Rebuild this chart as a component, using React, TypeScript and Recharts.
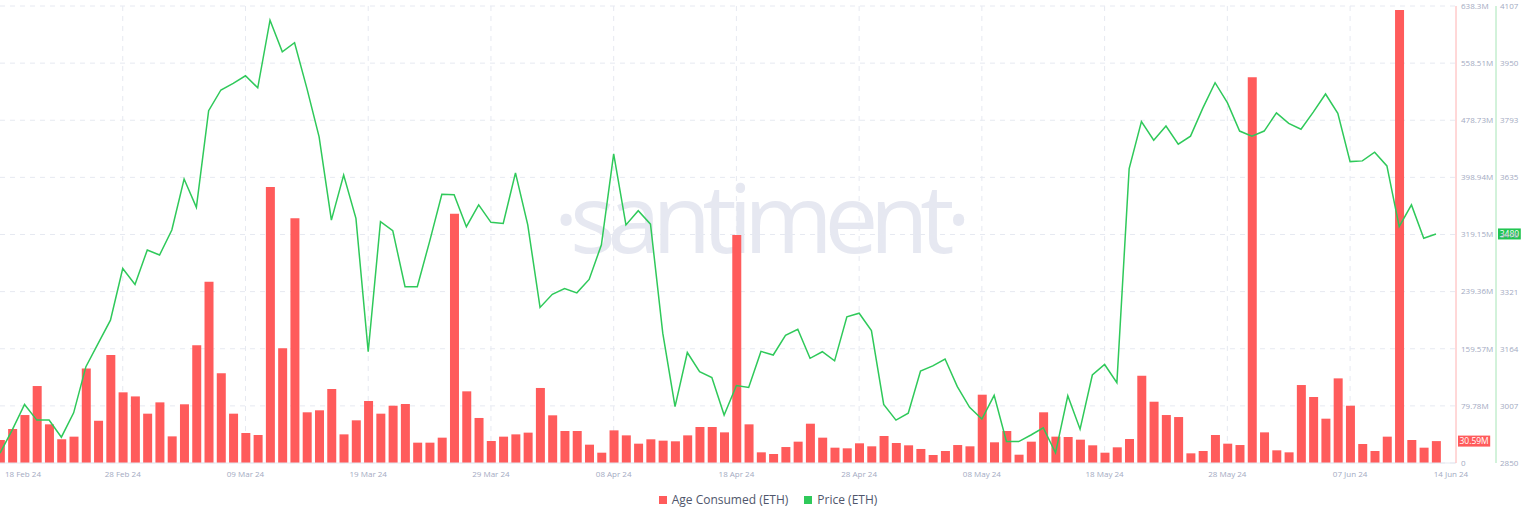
import {
  ComposedChart, Bar, Line, XAxis, YAxis, CartesianGrid,
  ReferenceLine, Legend,
} from "recharts";

document.body.style.margin = "0";

// Age consumed per day, in millions of ETH (18 Feb 24 .. 14 Jun 24)
const AGE_CONSUMED = [
  32.1, 47.5, 67.0, 107.5, 54.0, 33.0, 36.8, 132.0, 59.0, 150.8,
  98.7, 93.0, 68.9, 84.7, 37.2, 82.0, 164.3, 253.3, 125.2, 68.9,
  41.9, 39.1, 385.5, 160.2, 341.7, 70.8, 73.6, 103.4, 40.0, 59.6,
  86.6, 68.9, 80.0, 82.4, 28.4, 28.4, 35.4, 348.2, 100.1, 62.9,
  30.7, 36.8, 40.0, 42.4, 104.8, 66.6, 44.7, 44.7, 25.6, 14.4,
  45.6, 38.6, 27.0, 33.1, 31.2, 30.3, 38.6, 50.3, 50.3, 42.8,
  318.4, 54.0, 14.9, 12.6, 22.3, 29.8, 54.9, 35.4, 21.4, 20.5,
  27.5, 23.3, 37.7, 27.9, 24.7, 19.6, 11.2, 16.8, 25.1, 23.3,
  95.4, 28.9, 44.7, 11.6, 29.8, 70.8, 36.8, 36.3, 32.6, 24.7,
  14.4, 21.9, 33.5, 122.0, 85.6, 67.0, 64.2, 13.5, 16.8, 39.1,
  27.0, 25.1, 538.7, 42.8, 17.7, 14.9, 108.9, 92.2, 61.9, 118.2,
  80.0, 26.5, 16.8, 36.8, 632.7, 32.1, 21.4, 30.59,
];

// ETH price per day
const PRICE = [
  2877, 2941, 3011, 2968, 2968, 2921, 2988, 3115, 3179, 3243,
  3385, 3341, 3436, 3422, 3491, 3631, 3553, 3819, 3876, 3894,
  3915, 3882, 4068, 3981, 4006, 3881, 3747, 3518, 3642, 3523,
  3156, 3514, 3489, 3335, 3335, 3459, 3589, 3588, 3500, 3560,
  3512, 3509, 3648, 3505, 3278, 3314, 3330, 3318, 3355, 3450,
  3700, 3505, 3544, 3507, 3207, 3005, 3154, 3101, 3085, 2982,
  3063, 3058, 3157, 3147, 3201, 3218, 3138, 3156, 3131, 3252,
  3262, 3214, 3011, 2968, 2987, 3103, 3117, 3136, 3060, 3003,
  2971, 3036, 2909, 2909, 2927, 2947, 2878, 3035, 2943, 3092,
  3121, 3071, 3660, 3789, 3738, 3777, 3727, 3749, 3826, 3896,
  3841, 3763, 3749, 3763, 3813, 3784, 3768, 3815, 3865, 3812,
  3679, 3681, 3705, 3667, 3500, 3560, 3468, 3480,
];

const TICK_DAYS = [0, 10, 20, 30, 40, 50, 60, 70, 80, 90, 100, 110, 117];
const TICK_LABELS = [
  "18 Feb 24", "28 Feb 24", "09 Mar 24", "19 Mar 24", "29 Mar 24", "08 Apr 24",
  "18 Apr 24", "28 Apr 24", "08 May 24", "18 May 24", "28 May 24", "07 Jun 24", "14 Jun 24",
];
const GRID_DAYS = [10, 20, 30, 40, 50, 60, 70, 80, 90, 100, 110];

const AGE_TICKS = [0, 79.78, 159.57, 239.36, 319.15, 398.94, 478.73, 558.51, 638.3];
const PRICE_TICKS = [2850, 3007, 3164, 3321, 3478, 3635, 3793, 3950, 4107];

const RED = "#ff5b5b";
const GREEN = "#2fc95a";
const AXIS_TEXT = "#a3aac2";
const GRID = "#e6e9f1";
const FONT = "'Open Sans', 'Noto Sans', sans-serif";

const SERIES = [
  { name: "Age Consumed (ETH)", color: RED },
  { name: "Price (ETH)", color: GREEN },
];

const rows = AGE_CONSUMED.map((age, i) => ({ day: i, age, price: PRICE[i] }));
const lastAge = AGE_CONSUMED[AGE_CONSUMED.length - 1];
const lastPrice = PRICE[PRICE.length - 1];

const DateTick = (props: any) => {
  const { x, y, payload } = props;
  const idx = TICK_DAYS.indexOf(payload.value);
  const first = idx === 0;
  const last = idx === TICK_DAYS.length - 1;
  return (
    <text
      x={first ? x + 5 : last ? x + 15 : x}
      y={y}
      dy="0.71em"
      textAnchor={first ? "start" : "middle"}
      fill={AXIS_TEXT}
      fontSize={8}
    >
      {TICK_LABELS[idx]}
    </text>
  );
};

// value badge sitting on a right-hand axis
const Badge = (props: any) => {
  const { viewBox, text, fill, dx } = props;
  if (!viewBox) return null;
  const x = viewBox.x + viewBox.width + dx;
  const y = viewBox.y;
  const w = text.length * 4.7 + 4;
  return (
    <g>
      <rect x={x} y={y - 5.5} width={w} height={11} fill={fill} />
      <text x={x + w / 2} y={y} dy="0.35em" textAnchor="middle" fill="#fff" fontSize={8.5}>
        {text}
      </text>
    </g>
  );
};

const LegendContent = () => (
  <div
    style={{
      display: "flex", justifyContent: "center", gap: 16, height: 35,
      boxSizing: "border-box", position: "relative", top: -3, lineHeight: "16px",
      fontSize: 12, color: "#4f566b", fontFamily: FONT,
    }}
  >
    {SERIES.map((s) => (
      <span key={s.name} style={{ display: "flex", alignItems: "center", gap: 5 }}>
        <span style={{ width: 8, height: 8, background: s.color, display: "inline-block" }} />
        {s.name}
      </span>
    ))}
  </div>
);

export default function App() {
  return (
    <div style={{ position: "relative", width: 1536, height: 520, background: "#fff" }}>
      <svg width={1536} height={520} style={{ position: "absolute", left: 0, top: 0 }}>
        <text x={758} y={253} textAnchor="middle" fontSize={96} fontWeight={400}
          letterSpacing={-8.5} fontFamily="'Open Sans', sans-serif" fill="#e6e8f1">
          ·santiment·
        </text>
      </svg>
      <div style={{ position: "relative" }}>
        <ComposedChart
          width={1536}
          height={520}
          data={rows}
          margin={{ top: 6, right: 0, bottom: 0, left: 0 }}
          style={{ fontFamily: FONT }}
        >
          <CartesianGrid
            yAxisId="age" verticalValues={GRID_DAYS}
            stroke={GRID} strokeDasharray="5 5"
          />
          <XAxis
            dataKey="day" type="number" domain={[0, 117]} ticks={TICK_DAYS} interval={0}
            padding={{ left: 0, right: 20 }} height={22}
            tickLine={false} axisLine={{ stroke: GRID }} tick={<DateTick />}
          />
          <YAxis
            yAxisId="age" orientation="right" domain={[0, 638.3]} ticks={AGE_TICKS}
            width={40} tickSize={0} tickMargin={5} tickLine={false}
            axisLine={{ stroke: "#ffb0b0" }}
            tick={{ fill: AXIS_TEXT, fontSize: 8 }}
            tickFormatter={(v) => (v === 0 ? "0" : `${v}M`)}
          />
          <YAxis
            yAxisId="price" orientation="right" domain={[2850, 4107]} ticks={PRICE_TICKS}
            width={40} tickSize={0} tickMargin={4} tickLine={false}
            axisLine={{ stroke: "#a6e5b6" }}
            tick={{ fill: AXIS_TEXT, fontSize: 8 }}
          />
          <Bar yAxisId="age" dataKey="age" fill={RED} barSize={9} isAnimationActive={false} />
          <Line
            yAxisId="price" dataKey="price" type="linear" stroke={GREEN} strokeWidth={1.5}
            dot={false} activeDot={false} isAnimationActive={false}
          />
          <ReferenceLine
            yAxisId="age" y={lastAge} stroke="none"
            label={<Badge text={`${lastAge}M`} fill={RED} dx={2} />}
          />
          <ReferenceLine
            yAxisId="price" y={lastPrice} stroke="none"
            label={<Badge text={`${lastPrice}`} fill="#22c552" dx={42} />}
          />
          <Legend verticalAlign="bottom" content={<LegendContent />} />
        </ComposedChart>
      </div>
    </div>
  );
}
